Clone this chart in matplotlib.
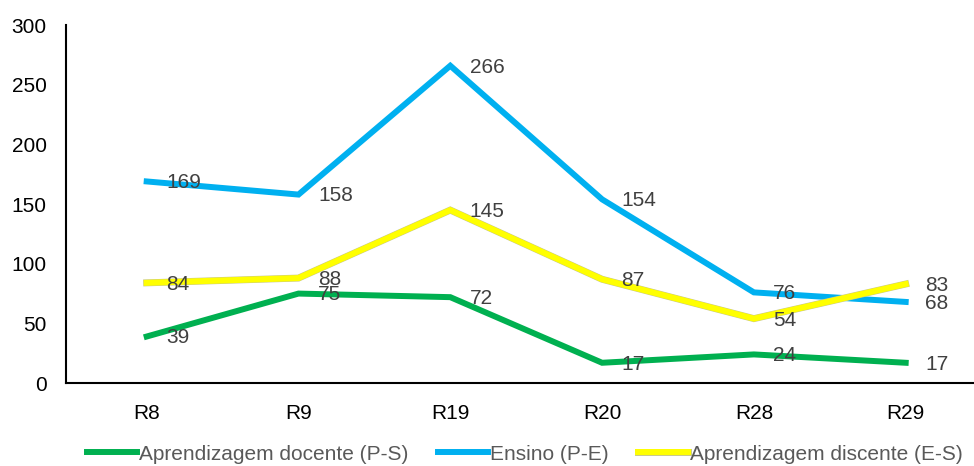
import matplotlib.pyplot as plt
import matplotlib.patheffects as pe

# Categories and series
rodadas = ["R8", "R9", "R19", "R20", "R28", "R29"]
aprend_docente = [39, 75, 72, 17, 24, 17]
ensino = [169, 158, 266, 154, 76, 68]
aprend_discente = [84, 88, 145, 87, 54, 83]

plt.rcParams['font.family'] = ['Liberation Sans', 'DejaVu Sans']

fig = plt.figure(figsize=(9.74, 4.66), dpi=100)
ax = fig.add_axes([0.068, 0.178, 0.932, 0.768])

x = list(range(len(rodadas)))

series = [
    (aprend_docente, "#00B050", "Aprendizagem docente (P-S)", None),
    (ensino, "#00B0F0", "Ensino (P-E)", None),
    (aprend_discente, "#FFFF00", "Aprendizagem discente (E-S)", "#c8c88a"),
]

for vals, color, name, edge in series:
    kw = {}
    if edge:
        kw['path_effects'] = [pe.Stroke(linewidth=5.0, foreground=edge), pe.Normal()]
    ax.plot(x, vals, color=color, lw=4.3, label=name, solid_joinstyle='miter', **kw)
    for xi, v in zip(x, vals):
        ax.annotate(str(v), (xi, v), xytext=(14, -1), textcoords='offset points',
                    ha='left', va='center', fontsize=15, color='#404040')

ax.set_xlim(-0.53, 5.45)
ax.set_ylim(0, 300)
ax.set_yticks(range(0, 301, 50))
ax.set_xticks(x)
ax.set_xticklabels(rodadas)
ax.tick_params(axis='both', length=0, labelsize=15, colors='black')
ax.tick_params(axis='y', pad=14)
ax.tick_params(axis='x', pad=15)
for s in ['top', 'right']:
    ax.spines[s].set_visible(False)
ax.spines['left'].set_linewidth(1.5)
ax.spines['bottom'].set_linewidth(1.5)

leg = fig.legend(loc='lower center', bbox_to_anchor=(0.539, -0.035), ncol=3,
                 frameon=False, fontsize=15, handlelength=2.4, handletextpad=0.1,
                 columnspacing=1.4)
for t in leg.get_texts():
    t.set_color('#595959')

fig.savefig("out.png", dpi=100)
